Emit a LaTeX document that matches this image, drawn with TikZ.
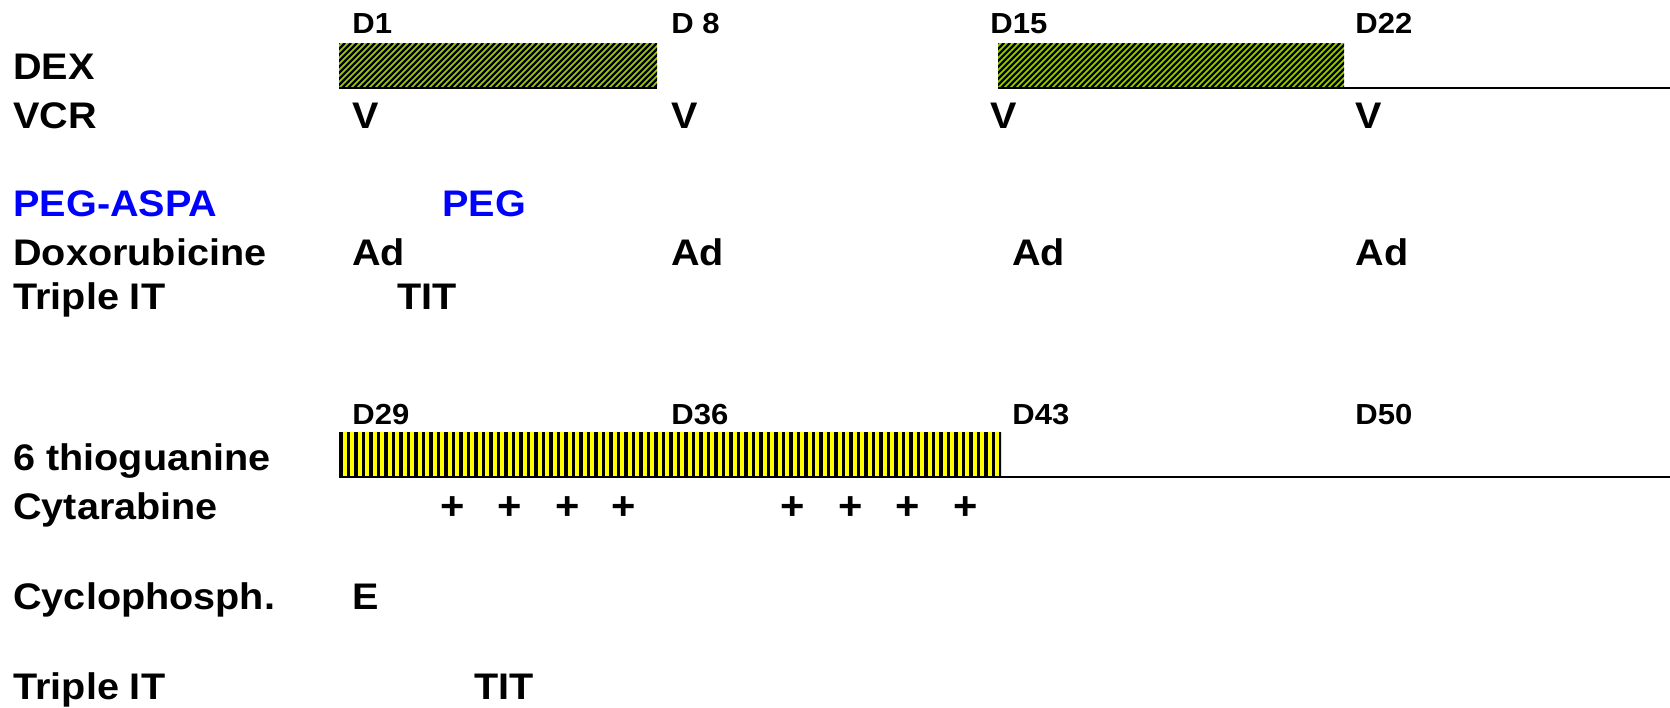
\documentclass[tikz,border=0pt]{standalone}
\usepackage{fontspec}
\setmainfont{Liberation Sans}[FakeStretch=1.07]
\definecolor{dexgreen}{HTML}{99CC00}
\definecolor{tgyellow}{HTML}{FFFF00}
\definecolor{pegblue}{HTML}{0000FF}

\begin{document}
\begin{tikzpicture}[x=0.5pt,y=-0.5pt,
  lbl/.style={anchor=base west, inner sep=0pt, font=\fontsize{18.5}{22}\selectfont\bfseries},
  daylbl/.style={anchor=base west, inner sep=0pt, font=\fontsize{14.5}{17}\selectfont\bfseries},
  bluelbl/.style={lbl, text=pegblue},
  dose/.style={anchor=base, inner sep=0pt, font=\fontsize{19.5}{22}\selectfont\bfseries},
  axisline/.style={line width=1.3pt, black},
  diagstripe/.style={line width=1.1pt, black},
]
\useasboundingbox (0,0) rectangle (1670,707);

% ---------- induction, part 1: dexamethasone blocks ----------
\fill[dexgreen] (339,43) rectangle (657,88);
\begin{scope}
  \clip (339,43) rectangle (657,88);
  \foreach \k in {0,...,62} \draw[diagstripe] ({294+6*\k},88) -- ++(45,-45);
\end{scope}
\fill[dexgreen] (998,43) rectangle (1344,88);
\begin{scope}
  \clip (998,43) rectangle (1344,88);
  \foreach \k in {0,...,66} \draw[diagstripe] ({953+6*\k},88) -- ++(45,-45);
\end{scope}
\draw[axisline] (339,88) -- (657,88);
\draw[axisline] (998,88) -- (1670,88);

% day labels
\node[daylbl] (d1)  at (352,33)  {D1};
\node[daylbl] (d8)  at (671,33)  {D 8};
\node[daylbl] (d15) at (990,33)  {D15};
\node[daylbl] (d22) at (1355,33) {D22};

% drug names
\node[lbl] (dex)   at (13,79)  {DEX};
\node[lbl] (vcr)   at (13,128) {VCR};
\node[bluelbl] (pegaspa) at (13,216) {PEG-ASPA};
\node[lbl] (doxo)  at (13,265) {Doxorubicine};
\node[lbl] (tit1)  at (13,309) {Triple IT};

% vincristine doses
\node[lbl] (v1) at (352,128)  {V};
\node[lbl] (v2) at (671,128)  {V};
\node[lbl] (v3) at (990,128)  {V};
\node[lbl] (v4) at (1355,128) {V};

% asparaginase, doxorubicine, intrathecal
\node[bluelbl] (peg) at (442,216) {PEG};
\node[lbl] (ad1) at (352,265)  {Ad};
\node[lbl] (ad2) at (671,265)  {Ad};
\node[lbl] (ad3) at (1012,265) {Ad};
\node[lbl] (ad4) at (1355,265) {Ad};
\node[lbl] (titA) at (397,309) {TIT};

% ---------- induction, part 2: 6-thioguanine block ----------
\fill[tgyellow] (339,432) rectangle (1001,477);
\begin{scope}
  \clip (339,432) rectangle (1001,477);
  \foreach \k in {0,...,88} \fill[black] ({339+7.5*\k},432) rectangle ++(3.9,45);
\end{scope}
\draw[axisline] (339,477) -- (1670,477);

\node[daylbl] (d29) at (352,424)  {D29};
\node[daylbl] (d36) at (671,424)  {D36};
\node[daylbl] (d43) at (1012,424) {D43};
\node[daylbl] (d50) at (1355,424) {D50};

\node[lbl] (tg)   at (13,470) {6 thioguanine};
\node[lbl] (arac) at (13,519) {Cytarabine};
\node[lbl] (cyc)  at (13,609) {Cyclophosph.};
\node[lbl] (tit2) at (13,699) {Triple IT};

% cytarabine doses
\foreach \x [count=\i] in {453,510,568,624,793,851,908,966}
  \node[dose] (p\i) at (\x,519) {+};

\node[lbl] (e1)   at (352,609) {E};
\node[lbl] (titB) at (474,699) {TIT};
\end{tikzpicture}
\end{document}
